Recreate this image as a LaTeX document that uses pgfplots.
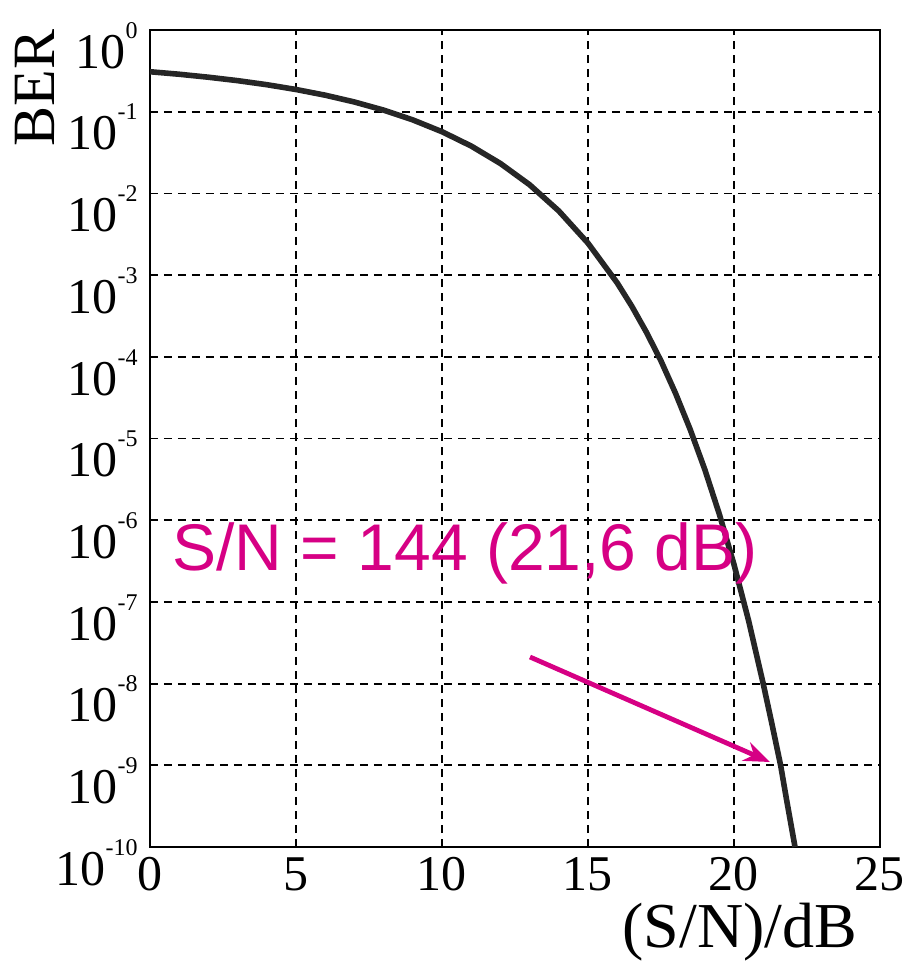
\documentclass[border=0pt]{standalone}
\usepackage{pgfplots}
\pgfplotsset{compat=1.18}
\usetikzlibrary{arrows.meta}
\usepackage{fontspec}
\setmainfont{Liberation Serif}
\newfontfamily\arial{Liberation Sans}
\definecolor{mag}{RGB}{214,0,132}
\newcommand\tl[1]{10\raisebox{15pt}{\fontsize{12}{12}\selectfont #1}}
\begin{document}
\begin{tikzpicture}
\path[use as bounding box] (-75pt,-61.5pt) rectangle (385.5pt,423.5pt);
\begin{axis}[at={(0,0)}, anchor=south west, scale only axis,
  width=365pt, height=408.5pt,
  xmin=0, xmax=25, ymode=log, ymin=1e-10, ymax=1,
  xtick={0,5,10,15,20,25},
  ytick={1e-10,1e-9,1e-8,1e-7,1e-6,1e-5,1e-4,1e-3,1e-2,1e-1,1},
  yticklabels={\tl{-10},\tl{-9},\tl{-8},\tl{-7},\tl{-6},\tl{-5},\tl{-4},\tl{-3},\tl{-2},\tl{-1},\tl{0}},
  minor ytick={}, 
  grid=major,
  major grid style={black, dash pattern=on 4pt off 3pt, line width=0.9pt},
  tick style={draw=none},
  axis line style={line width=1pt},
  /pgf/number format/assume math mode=true,
  xticklabel style={font=\fontsize{25}{25}\selectfont, inner sep=1pt, yshift=-4pt},
  yticklabel style={font=\fontsize{25}{25}\selectfont, anchor=north east, inner sep=1pt, xshift=-5pt, yshift=5pt},
]
\addplot[black!85, line width=2.8pt] coordinates {
(0,0.3085) (1,0.2874) (2,0.2643) (3,0.2400) (4,0.2141) (5,0.1870)
(6,0.1593) (7,0.1315) (8,0.1046) (9,0.0794) (10,0.0569) (11,0.0380)
(12,0.02324) (13,0.01277) (14,0.00610) (15,0.00246) (16,0.000803)
(16.5,0.000416) (17,0.000200) (17.5,8.9e-5) (18,3.56e-5) (18.5,1.29e-5)
(19,4.18e-6) (19.5,1.18e-6) (20,2.87e-7) (20.5,5.9e-8) (21,1.0e-8)
(21.3,3.2e-9) (21.6,9.87e-10) (21.8,3.8e-10) (22.09,1.0e-10)
};
\end{axis}
\node[rotate=90, font=\fontsize{30}{30}\selectfont] at (-57.5pt,379.5pt) {BER};
\node[font=\fontsize{32}{32}\selectfont] at (295pt,-42.5pt) {(S/N)/dB};
\node[font=\arial\fontsize{33}{33}\selectfont, text=mag] at (157.5pt,147pt) {S/N = 144 (21,6 dB)};
\draw[mag, line width=2.4pt, -{Stealth[length=13pt,width=10pt]}] (190pt,95pt) -- (310pt,42.5pt);
\end{tikzpicture}
\end{document}
